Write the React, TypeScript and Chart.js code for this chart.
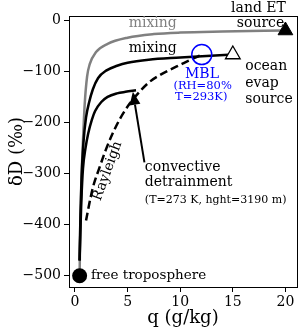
import React, { useEffect, useRef } from 'react';
import { Chart, registerables } from 'chart.js';
Chart.register(...registerables);

// axis ticks
const xTicks = [0, 5, 10, 15, 20];
const yTicks = [0, -100, -200, -300, -400, -500];

// gray mixing line: free troposphere -> land ET source
const landQ = [0.44, 0.5, 0.6, 0.75, 0.92, 1.15, 1.4, 2.0, 3.1, 5.0, 7.5, 10, 14, 20];
const landD = [-500, -400, -320, -240, -165, -110, -86, -62, -46, -34, -27, -24, -22, -20];

// black mixing line: free troposphere -> ocean evap source
const oceanQ = [0.44, 0.5, 0.62, 0.8, 1.05, 1.35, 1.7, 2.2, 3.0, 4.0, 5.0, 7.0, 10, 12.5, 15];
const oceanD = [-470, -400, -310, -240, -190, -160, -135, -113, -98, -89, -83, -77, -73, -70, -67];

// black mixing line: free troposphere -> convective detrainment
const convQ = [0.44, 0.5, 0.6, 0.76, 1.0, 1.25, 1.6, 1.9, 2.5, 3.1, 4.0, 4.8, 5.8];
const convD = [-470, -420, -355, -290, -250, -222, -195, -178, -160, -150, -143, -140, -137];

// dashed Rayleigh curve from MBL
const rayQ = [1.05, 1.45, 1.8, 2.3, 2.9, 3.5, 4.3, 5.2, 6.0, 7.0, 8.0, 9.0, 10.0, 11.0, 12.0];
const rayD = [-392, -350, -320, -290, -255, -225, -192, -163, -143, -122, -108, -97, -87, -77, -68];

// end members
const freeTrop = { q: 0.44, d: -500 };
const landSrc = { q: 20, d: -20 };
const oceanSrc = { q: 15, d: -67 };
const mbl = { q: 12.05, d: -67 };

// arrow (tail -> head) in data units
const arrowTail = { q: 6.6, d: -278 };
const arrowHead = { q: 5.5, d: -140 };

type Lbl = { t: string; q: number; d: number; color: string; size: number; align: CanvasTextAlign; rot?: number };
const labels: Lbl[] = [
  { t: 'mixing', q: 7.39, d: -6, color: '#808080', size: 14, align: 'center' },
  { t: 'mixing', q: 7.39, d: -55, color: '#000', size: 14, align: 'center' },
  { t: 'MBL', q: 12.07, d: -106, color: '#0000ff', size: 14, align: 'center' },
  { t: '(RH=80%', q: 12.13, d: -128, color: '#0000ff', size: 11.5, align: 'center' },
  { t: 'T=293K)', q: 12.0, d: -150, color: '#0000ff', size: 11.5, align: 'center' },
  { t: 'ocean', q: 16.18, d: -90, color: '#000', size: 14, align: 'left' },
  { t: 'evap', q: 16.18, d: -124, color: '#000', size: 14, align: 'left' },
  { t: 'source', q: 16.18, d: -155, color: '#000', size: 14, align: 'left' },
  { t: 'land ET', q: 17.44, d: 24, color: '#000', size: 14, align: 'center' },
  { t: 'source', q: 17.63, d: -5.3, color: '#000', size: 14, align: 'center' },
  { t: 'convective', q: 6.64, d: -288, color: '#000', size: 14, align: 'left' },
  { t: 'detrainment', q: 6.64, d: -318, color: '#000', size: 14, align: 'left' },
  { t: '(T=273 K, hght=3190 m)', q: 6.64, d: -352, color: '#000', size: 11, align: 'left' },
  { t: 'free troposphere', q: 1.52, d: -500, color: '#000', size: 13.5, align: 'left' },
  { t: 'Rayleigh', q: 3.1, d: -295, color: '#000', size: 14, align: 'center', rot: -70 },
];

const FONT = '"DejaVu Serif", serif';

const fmt = (v: number) => (v < 0 ? '\u2212' + Math.abs(v) : String(v));

const overlay = {
  id: 'overlay',
  afterDraw(chart: any) {
    const { ctx, chartArea: a, scales } = chart;
    const X = (v: number) => scales.x.getPixelForValue(v);
    const Y = (v: number) => scales.y.getPixelForValue(v);
    ctx.save();
    // frame
    ctx.strokeStyle = '#000';
    ctx.lineWidth = 1;
    ctx.strokeRect(Math.round(a.left) + 0.5, Math.round(a.top) + 0.5, Math.round(a.right - a.left), Math.round(a.bottom - a.top));
    // arrow
    const x0 = X(arrowTail.q), y0 = Y(arrowTail.d), x1 = X(arrowHead.q), y1 = Y(arrowHead.d);
    const ang = Math.atan2(y1 - y0, x1 - x0);
    const hl = 13, hw = 5.5;
    const bx = x1 - hl * Math.cos(ang), by = y1 - hl * Math.sin(ang);
    ctx.strokeStyle = '#000';
    ctx.lineWidth = 2;
    ctx.beginPath();
    ctx.moveTo(x0, y0);
    ctx.lineTo(bx, by);
    ctx.stroke();
    ctx.fillStyle = '#000';
    ctx.beginPath();
    ctx.moveTo(x1, y1);
    ctx.lineTo(bx + hw * Math.sin(ang), by - hw * Math.cos(ang));
    ctx.lineTo(bx - hw * Math.sin(ang), by + hw * Math.cos(ang));
    ctx.closePath();
    ctx.fill();
    // labels
    ctx.textBaseline = 'middle';
    for (const l of labels) {
      ctx.font = `${l.size}px ${FONT}`;
      ctx.fillStyle = l.color;
      ctx.textAlign = l.align;
      const px = X(l.q), py = Y(l.d);
      if (l.rot) {
        ctx.save();
        ctx.translate(px, py);
        ctx.rotate((l.rot * Math.PI) / 180);
        ctx.fillText(l.t, 0, 0);
        ctx.restore();
      } else {
        ctx.fillText(l.t, px, py);
      }
    }
    // axis titles
    ctx.fillStyle = '#000';
    ctx.font = `18px ${FONT}`;
    ctx.textAlign = 'center';
    ctx.fillText('q (g/kg)', (a.left + a.right) / 2, 318);
    ctx.save();
    ctx.translate(17, (a.top + a.bottom) / 2);
    ctx.rotate(-Math.PI / 2);
    ctx.fillText('\u03b4D (\u2030)', 0, 0);
    ctx.restore();
    ctx.restore();
  },
};

const pts = (qs: number[], ds: number[]) => qs.map((q, i) => ({ x: q, y: ds[i] }));

export default function App() {
  const ref = useRef<HTMLCanvasElement>(null);
  useEffect(() => {
    document.body.style.margin = '0';
    const line = (data: any, color: string, order: number, dash: number[] = []) => ({
      data,
      showLine: true,
      borderColor: color,
      borderWidth: 2.5,
      borderDash: dash,
      pointRadius: 0,
      fill: false,
      cubicInterpolationMode: 'monotone',
      order,
    });
    const chart = new Chart(ref.current as HTMLCanvasElement, {
      type: 'scatter',
      data: {
        datasets: [
          {
            data: [{ x: freeTrop.q, y: freeTrop.d }],
            pointStyle: 'circle', pointRadius: 7.5, backgroundColor: '#000', borderColor: '#000', borderWidth: 0, order: 1,
          },
          {
            data: [{ x: landSrc.q, y: landSrc.d }],
            pointStyle: 'triangle', pointRadius: 8.5, backgroundColor: '#000', borderColor: '#000', borderWidth: 1, order: 1,
          },
          {
            data: [{ x: oceanSrc.q, y: oceanSrc.d }],
            pointStyle: 'triangle', pointRadius: 8.5, backgroundColor: '#fff', borderColor: '#000', borderWidth: 1.3, order: 1,
          },
          {
            data: [{ x: mbl.q, y: mbl.d }],
            pointStyle: 'circle', pointRadius: 10, backgroundColor: 'rgba(0,0,0,0)', borderColor: '#0000ff', borderWidth: 1.5, order: 1,
          },
          line(pts(landQ, landD), '#808080', 5) as any,
          line(pts(oceanQ, oceanD), '#000', 4) as any,
          line(pts(convQ, convD), '#000', 4) as any,
          line(pts(rayQ, rayD), '#000', 3, [8, 4]) as any,
        ],
      },
      options: {
        animation: false,
        responsive: false,
        maintainAspectRatio: false,
        layout: { autoPadding: false, padding: { left: 0, right: 2, top: 16, bottom: 0 } },
        plugins: { legend: { display: false }, tooltip: { enabled: false } },
        scales: {
          x: {
            type: 'linear',
            min: -0.57,
            max: 21.1,
            afterBuildTicks: (s: any) => { s.ticks = xTicks.map((v) => ({ value: v })); },
            afterFit: (s: any) => { s.height = 42; s.paddingLeft = 0; s.paddingRight = 0; },
            ticks: { color: '#000', font: { family: FONT, size: 14 }, padding: 2, maxRotation: 0, callback: (v: any) => fmt(Number(v)) },
            grid: { drawOnChartArea: false, drawTicks: true, tickLength: 5, color: '#000' },
            border: { display: false },
          },
          y: {
            type: 'linear',
            min: -522,
            max: 8.4,
            afterBuildTicks: (s: any) => { s.ticks = yTicks.map((v) => ({ value: v })); },
            afterFit: (s: any) => { s.width = 69; s.paddingTop = 0; s.paddingBottom = 0; },
            ticks: { color: '#000', font: { family: FONT, size: 14 }, padding: 3, callback: (v: any) => fmt(Number(v)) },
            grid: { drawOnChartArea: false, drawTicks: true, tickLength: 5, color: '#000' },
            border: { display: false },
          },
        },
      },
      plugins: [overlay],
    } as any);
    return () => chart.destroy();
  }, []);
  return (
    <div style={{ width: 299, height: 329 }}>
      <canvas ref={ref} width={299} height={329} />
    </div>
  );
}
